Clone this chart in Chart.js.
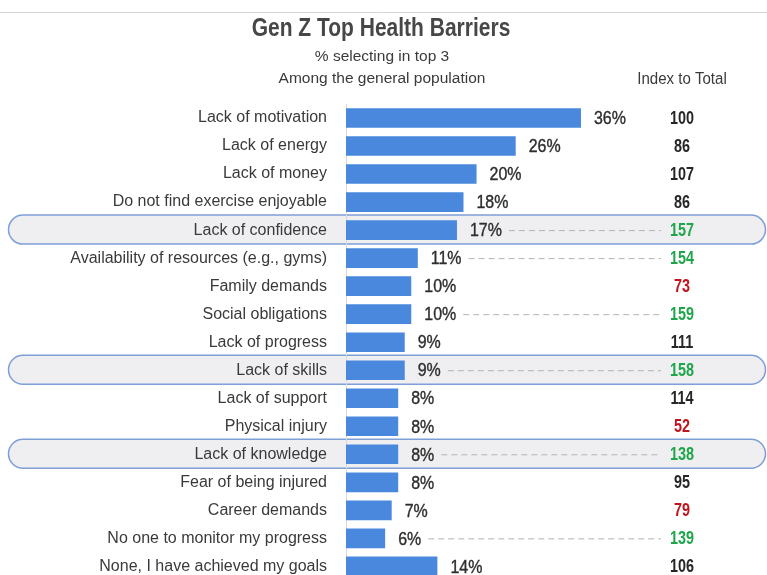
<!DOCTYPE html>
<html>
<head>
<meta charset="utf-8">
<script src="https://cdn.jsdelivr.net/npm/chart.js@4"></script>
<style>
  html, body { margin: 0; padding: 0; background: #fff; overflow: hidden; }
  canvas { display: block; }
</style>
</head>
<body>
<canvas id="chart" width="767" height="609"></canvas>
<script>
// Barriers, ranked as shown, with the share picking each in their top 3
const categories = [
  "Lack of motivation",
  "Lack of energy",
  "Lack of money",
  "Do not find exercise enjoyable",
  "Lack of confidence",
  "Availability of resources (e.g., gyms)",
  "Family demands",
  "Social obligations",
  "Lack of progress",
  "Lack of skills",
  "Lack of support",
  "Physical injury",
  "Lack of knowledge",
  "Fear of being injured",
  "Career demands",
  "No one to monitor my progress",
  "None, I have achieved my goals"
];
const pctValues = [36, 26, 20, 18, 17, 11, 10, 10, 9, 9, 8, 8, 8, 8, 7, 6, 14];
const indexValues = [100, 86, 107, 86, 157, 154, 73, 159, 111, 158, 114, 52, 138, 95, 79, 139, 106];
const highlightRows = ["Lack of confidence", "Lack of skills", "Lack of knowledge"];

const FONT = '"Liberation Sans", Arial, sans-serif';
const TEXT = '#3a3a3a';
const BAR = '#4a88de';
const GREEN = '#1fa64a';
const RED = '#c0141c';

function indexColor(v) {
  if (v >= 120) return GREEN;
  if (v <= 80) return RED;
  return '#262626';
}

// Draws text squeezed horizontally by sx (optionally thickened); returns the drawn width.
function drawText(ctx, text, x, y, font, color, align, sx, thicken) {
  ctx.save();
  ctx.font = font;
  ctx.fillStyle = color;
  ctx.textAlign = align;
  ctx.textBaseline = 'middle';
  ctx.translate(x, y);
  ctx.scale(sx, 1);
  ctx.fillText(text, 0, 0);
  if (thicken) {
    ctx.strokeStyle = color;
    ctx.lineWidth = thicken;
    ctx.strokeText(text, 0, 0);
  }
  const w = ctx.measureText(text).width * sx;
  ctx.restore();
  return w;
}

const decorations = {
  id: 'decorations',
  beforeDraw(chart) {
    const ctx = chart.ctx;
    const y = chart.scales.y;
    ctx.save();
    // thin rule across the top
    ctx.strokeStyle = '#d6d6d6';
    ctx.lineWidth = 1;
    ctx.beginPath();
    ctx.moveTo(0, 12.5);
    ctx.lineTo(chart.width, 12.5);
    ctx.stroke();
    // rounded highlight bands behind selected rows
    highlightRows.forEach(name => {
      const i = categories.indexOf(name);
      const cy = y.getPixelForValue(i);
      ctx.beginPath();
      ctx.roundRect(8.5, cy - 15, 757, 29, 14.5);
      ctx.fillStyle = '#efeff2';
      ctx.fill();
      ctx.strokeStyle = '#7f9fd8';
      ctx.lineWidth = 1.5;
      ctx.stroke();
    });
    ctx.restore();
    // headings
    drawText(ctx, 'Gen Z Top Health Barriers', 381, 29, 'bold 25px ' + FONT, '#474747', 'center', 0.84);
    drawText(ctx, '% selecting in top 3', 382, 57, '15.5px ' + FONT, TEXT, 'center', 1.0);
    drawText(ctx, 'Among the general population', 382, 79, '15.5px ' + FONT, TEXT, 'center', 1.0);
    drawText(ctx, 'Index to Total', 682, 80, '16px ' + FONT, TEXT, 'center', 0.94);
  },
  afterDatasetsDraw(chart) {
    const ctx = chart.ctx;
    const meta = chart.getDatasetMeta(0);
    meta.data.forEach((bar, i) => {
      const cy = bar.y;
      const lx = bar.x + 13;
      const w = drawText(ctx, pctValues[i] + '%', lx, cy + 1, '19px ' + FONT, '#2e2e2e', 'left', 0.84, 0.4);
      const iv = indexValues[i];
      if (iv >= 120) {
        ctx.save();
        ctx.strokeStyle = '#b3b3b3';
        ctx.lineWidth = 1;
        ctx.setLineDash([6, 4]);
        ctx.beginPath();
        ctx.moveTo(lx + w + 7, cy + 0.5);
        ctx.lineTo(661, cy + 0.5);
        ctx.stroke();
        ctx.restore();
      }
      drawText(ctx, String(iv), 682, cy + 1, 'bold 18px ' + FONT, indexColor(iv), 'center', 0.8);
    });
  }
};

new Chart(document.getElementById('chart'), {
  type: 'bar',
  data: {
    labels: categories,
    datasets: [{
      data: pctValues,
      backgroundColor: BAR,
      borderWidth: 0,
      barPercentage: 0.7,
      categoryPercentage: 1.0
    }]
  },
  options: {
    indexAxis: 'y',
    responsive: false,
    animation: false,
    layout: { padding: { top: 104, bottom: 2, left: 0, right: 0 } },
    plugins: {
      legend: { display: false },
      tooltip: { enabled: false },
      title: { display: false }
    },
    scales: {
      x: {
        display: false,
        min: 0,
        max: 64.5
      },
      y: {
        afterFit(scale) { scale.width = 346; },
        grid: { display: false, drawTicks: false },
        border: { display: true, color: '#d9d9d9', width: 1 },
        ticks: {
          padding: 19,
          color: TEXT,
          font: { family: FONT, size: 16 }
        }
      }
    }
  },
  plugins: [decorations]
});
</script>
</body>
</html>
